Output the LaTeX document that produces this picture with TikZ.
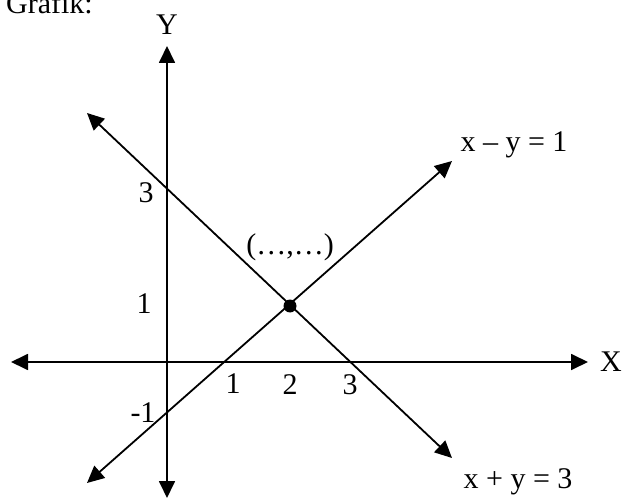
\documentclass[tikz,border=0pt]{standalone}
\usepackage{fontspec}
\setmainfont{Liberation Serif}
\usetikzlibrary{arrows.meta,positioning}

\begin{document}
\begin{tikzpicture}[x=1pt, y=-1pt, every node/.style={font=\fontsize{30}{34}\selectfont, inner sep=0pt},
  axisline/.style={line width=1.8pt, {Triangle[length=17pt,width=16pt]}-{Triangle[length=17pt,width=16pt]}}]
\useasboundingbox (0,0) rectangle (622,500);
\node[anchor=base west] (title) at (6,14) {Grafik:};
% axes
\coordinate (xl) at (11,362); \coordinate (xr) at (588,362);
\coordinate (yt) at (167,46); \coordinate (yb) at (167,498);
\draw[axisline] (xl) -- (xr);
\draw[axisline] (yt) -- (yb);
\node (X) at (611,362) {X};
\node (Y) at (167,25) {Y};
% the two lines
\coordinate (a1) at (87,113); \coordinate (a2) at (452,458);
\coordinate (b1) at (87,483); \coordinate (b2) at (452,161);
\draw[axisline] (a1) -- (a2);
\draw[axisline] (b1) -- (b2);
\node[circle, fill, minimum size=13pt] (P) at (290,306) {};
\node (Plab) at (290,247) {(\ldots,\ldots)};
\node (eqB) at (514,145) {x -- y = 1};
\node (eqA) at (518,482) {x + y = 3};
% ticks
\foreach \nm/\px/\py/\t in {x1/233/384/1, x2/290/385/2, x3/350/385/3, y1/144/304/1, y3/146/193/3, ym/143/413/-1}
  \node (\nm) at (\px,\py) {\t};
\end{tikzpicture}
\end{document}
